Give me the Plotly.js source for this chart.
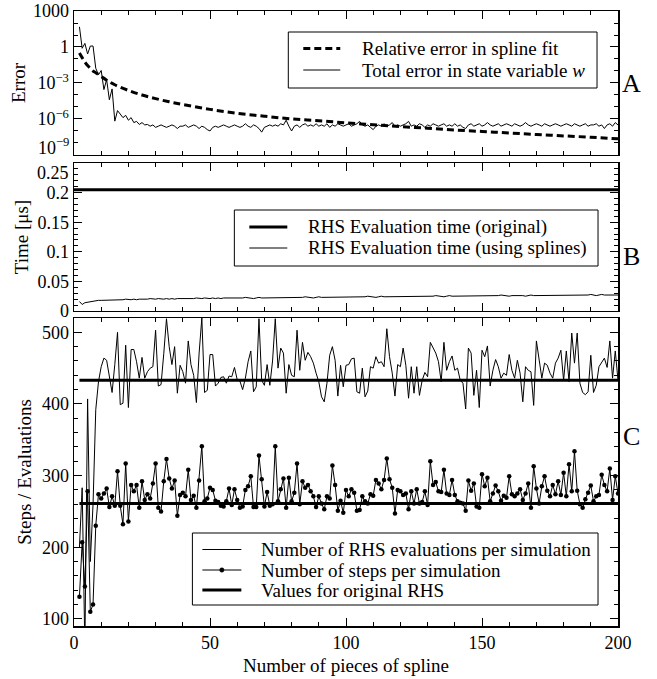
<!DOCTYPE html>
<html>
<head>
<meta charset="utf-8">
<script src="https://cdn.plot.ly/plotly-3.0.1.min.js"></script>
<style>html,body{margin:0;padding:0;background:#fff;}</style>
</head>
<body>
<div id="chart" style="width:657px;height:679px;"></div>
<script>
// ---------- data ----------
// x: number of pieces of spline (2 .. 200)
const pieces = [];
for (let i = 2; i <= 200; i++) pieces.push(i);

// Panel A: relative error in spline fit (smooth curve, read at selected x)
const splineFitX = [2,3,4,5,6,7,8,10,12,15,20,25,30,35,40,50,60,70,80,90,100,110,120,130,140,150,160,170,180,190,200];
const splineFitErr = [3.2e-1,1.3e-1,5.6e-2,2.8e-2,1.7e-2,1.0e-2,7.1e-3,3.5e-3,1.7e-3,7.1e-4,2.4e-4,1.0e-4,5.0e-5,2.7e-5,1.6e-5,6.3e-6,3.0e-6,1.7e-6,1.0e-6,7.1e-7,4.8e-7,3.3e-7,2.3e-7,1.7e-7,1.2e-7,9.1e-8,6.8e-8,5.1e-8,3.9e-8,3.0e-8,2.2e-8];

// Panel A: total error in state variable w (x = 2..200)
const totalErrW = [
 48,0.78,2.0,0.26,1.2,1.2,0.017,4.8e-3,1.1e-2,2.8e-4,
 1.9e-3,4.0e-5,3.2e-4,6.6e-7,5.0e-6,2.5e-6,1.3e-6,2.0e-6,7.9e-7,1.3e-6,
 5.0e-7,6.3e-7,3.5e-7,5.0e-7,3.2e-7,3.5e-7,2.5e-7,3.2e-7,2.0e-7,2.5e-7,
 3.2e-7,2.5e-7,2.0e-7,2.5e-7,3.2e-7,2.5e-7,1.6e-7,2.5e-7,2.5e-7,3.2e-7,
 2.0e-7,2.5e-7,3.2e-7,2.5e-7,1.6e-7,2.5e-7,2.0e-7,1.3e-7,1.0e-7,2.0e-7,
 2.5e-7,2.0e-7,2.5e-7,3.2e-7,2.5e-7,2.0e-7,2.5e-7,3.2e-7,2.5e-7,2.0e-7,
 2.5e-7,4.0e-7,2.5e-7,2.0e-7,3.2e-7,2.5e-7,1.6e-7,8.0e-8,2.0e-7,2.5e-7,
 3.2e-7,2.5e-7,3.2e-7,2.5e-7,4.0e-7,3.2e-7,7.9e-7,2.5e-7,1.0e-7,2.5e-7,
 3.2e-7,2.0e-7,3.2e-7,4.0e-7,2.5e-7,3.2e-7,2.5e-7,4.0e-7,2.5e-7,3.2e-7,
 2.5e-7,4.0e-7,2.0e-7,3.2e-7,2.5e-7,4.0e-7,3.2e-7,2.5e-7,3.2e-7,4.0e-7,
 2.5e-7,3.2e-7,4.0e-7,6.3e-7,3.2e-7,2.5e-7,3.2e-7,2.0e-7,1.3e-7,2.5e-7,
 3.2e-7,2.5e-7,4.0e-7,2.5e-7,3.2e-7,5.0e-7,2.5e-7,3.2e-7,2.5e-7,3.2e-7,
 4.0e-7,6.3e-7,2.5e-7,3.2e-7,2.5e-7,4.0e-7,3.2e-7,2.0e-7,3.2e-7,2.5e-7,
 4.0e-7,3.2e-7,2.5e-7,3.2e-7,4.0e-7,2.5e-7,3.2e-7,2.5e-7,4.0e-7,2.5e-7,
 3.2e-7,2.0e-7,1.6e-7,3.2e-7,4.0e-7,2.5e-7,3.2e-7,4.0e-7,2.5e-7,3.2e-7,
 5.0e-7,3.2e-7,2.5e-7,3.2e-7,4.0e-7,2.5e-7,3.2e-7,4.0e-7,3.2e-7,2.5e-7,
 4.0e-7,3.2e-7,2.5e-7,3.2e-7,5.0e-7,3.2e-7,2.5e-7,3.2e-7,4.0e-7,3.2e-7,
 2.5e-7,4.0e-7,3.2e-7,2.5e-7,3.2e-7,4.0e-7,3.2e-7,2.5e-7,3.2e-7,4.0e-7,
 3.2e-7,2.5e-7,4.0e-7,3.2e-7,2.5e-7,3.2e-7,4.0e-7,2.5e-7,3.2e-7,3.2e-7,
 4.0e-7,2.5e-7,3.2e-7,1.6e-7,3.2e-7,4.0e-7,2.5e-7,5.0e-7,3.2e-7
];

// Panel B: RHS evaluation time [us]
const timeOriginal = [0.205, 0.205];
const timeSplines = [
 0.016,0.011,0.014,0.015,0.016,0.017,0.017,0.018,0.018,0.018,0.019,0.018,0.019,0.019,0.018,0.019,0.019,0.020,0.019,
 0.019,0.020,0.019,0.020,0.020,0.019,0.020,0.021,0.020,0.020,0.021,0.020,0.020,0.021,0.020,0.021,0.020,0.021,0.021,0.020,
 0.021,0.021,0.020,0.021,0.022,0.021,0.021,0.022,0.021,0.021,0.022,0.021,0.022,0.021,0.022,0.022,0.021,0.022,0.022,0.021,
 0.022,0.022,0.023,0.022,0.022,0.021,0.022,0.023,0.022,0.022,0.023,0.022,0.022,0.023,0.022,0.023,0.023,0.022,0.023,0.022,
 0.023,0.023,0.022,0.023,0.024,0.023,0.023,0.022,0.023,0.024,0.023,0.023,0.024,0.023,0.023,0.024,0.023,0.024,0.024,0.023,
 0.024,0.024,0.023,0.024,0.024,0.023,0.024,0.025,0.024,0.024,0.023,0.024,0.025,0.024,0.024,0.025,0.024,0.024,0.025,0.024,
 0.024,0.025,0.024,0.025,0.025,0.024,0.025,0.024,0.025,0.025,0.024,0.025,0.026,0.025,0.025,0.024,0.025,0.026,0.025,0.025,
 0.025,0.026,0.025,0.025,0.026,0.025,0.026,0.025,0.025,0.026,0.026,0.025,0.026,0.026,0.025,0.026,0.027,0.026,0.026,0.025,
 0.026,0.026,0.027,0.026,0.026,0.025,0.026,0.027,0.026,0.026,0.027,0.026,0.026,0.027,0.026,0.026,0.027,0.026,0.027,0.026,
 0.026,0.027,0.026,0.027,0.027,0.026,0.027,0.026,0.027,0.028,0.027,0.026,0.027,0.028,0.027,0.027,0.028,0.027,0.028,0.027
];

// Panel C: RHS evaluations and steps per simulation (x = 2..200)
const rhsEvals = [
 200,283,60,407,180,260,392,431,452,464,
 461,440,416,455,500,399,401,482,395,476,
 476,459,436,465,436,445,450,452,503,425,
 427,470,519,480,455,480,415,454,445,429,
 488,455,440,402,471,520,416,419,469,469,
 425,429,437,438,429,439,438,451,434,432,
 420,436,459,474,417,424,519,433,426,455,
 426,460,519,450,478,471,415,455,440,438,
 503,447,486,461,472,466,457,443,431,410,
 403,429,468,480,461,411,454,424,454,455,
 463,464,417,415,450,410,418,452,450,466,
 457,459,452,505,466,443,411,455,452,478,
 454,408,452,415,452,412,433,444,438,486,
 478,471,459,431,486,447,459,467,447,450,
 433,429,393,478,471,412,447,395,475,466,
 481,425,447,462,452,436,443,440,469,447,
 436,461,443,403,452,447,445,398,488,461,
 436,457,454,443,436,457,464,475,433,474,
 431,499,457,499,429,416,413,417,468,416,
 426,452,459,464,451,488,436,474,433
];
const steps = [
 131,207,145,278,110,120,230,274,268,275,
 282,256,271,258,306,258,232,317,236,287,
 278,287,255,292,266,274,268,289,317,255,
 250,292,323,296,282,293,244,273,276,271,
 308,266,272,255,293,341,264,268,283,280,
 265,263,258,257,264,282,259,281,266,255,
 257,280,285,299,256,256,328,295,257,277,
 258,260,341,264,281,296,255,297,264,276,
 317,260,292,283,287,278,271,256,271,261,
 253,271,268,314,287,251,265,248,280,271,
 281,276,251,252,271,264,261,274,272,294,
 289,281,294,324,295,283,247,280,278,273,
 275,253,278,261,281,261,263,278,259,320,
 287,291,278,277,308,275,273,294,273,264,
 262,261,251,293,279,289,257,255,302,285,
 297,264,275,286,278,265,272,269,299,274,
 271,275,281,266,275,289,255,313,282,261,
 285,299,279,271,287,274,292,273,304,271,
 316,278,334,279,260,255,267,276,286,264,
 271,273,301,287,278,310,266,299,275
];
const originalRHS = [433, 261]; // evaluations, steps for original RHS

// tick labels (the edge labels 10^-9 and 0.25 are drawn shifted inward below)
const errTickVals = [1e-6, 1e-3, 1, 1000];
const errTickText = ['10<sup>−6</sup>', '10<sup>−3</sup>', '1', '1000'];
const timeTickVals = [0, 0.05, 0.1, 0.15, 0.2];
const timeTickText = ['0', '0.05', '0.1', '0.15', '0.2'];

// ---------- chart ----------
const FONT = 'Liberation Serif, "Times New Roman", Times, serif';
const LFS = 19;   // legend / title font size
const xFirst = pieces[0], xLast = pieces[pieces.length - 1];

const names = {
  fit: 'Relative error in spline fit',
  totw: 'Total error in state variable <i>w</i>',
  tOrig: 'RHS Evaluation time (original)',
  tSpl: 'RHS Evaluation time (using splines)',
  ev: 'Number of RHS evaluations per simulation',
  st: 'Number of steps per simulation',
  orig: 'Values for original RHS'
};

const traces = [
  {x: splineFitX, y: splineFitErr, xaxis:'x', yaxis:'y', mode:'lines', line:{color:'black', width:3, dash:'7px,4px', shape:'spline'}, name:names.fit},
  {x: pieces, y: totalErrW, xaxis:'x', yaxis:'y', mode:'lines', line:{color:'black', width:1}, name:names.totw},

  {x: [0, xLast], y: timeOriginal, xaxis:'x2', yaxis:'y2', mode:'lines', line:{color:'black', width:3}, name:names.tOrig},
  {x: pieces, y: timeSplines, xaxis:'x2', yaxis:'y2', mode:'lines', line:{color:'black', width:1}, name:names.tSpl},

  {x: pieces, y: rhsEvals, xaxis:'x3', yaxis:'y3', mode:'lines', line:{color:'black', width:1}, name:names.ev},
  {x: pieces, y: steps, xaxis:'x3', yaxis:'y3', mode:'lines+markers', line:{color:'black', width:1}, marker:{color:'black', size:4.5}, name:names.st},
  {x: [xFirst, xLast], y: [originalRHS[0], originalRHS[0]], xaxis:'x3', yaxis:'y3', mode:'lines', line:{color:'black', width:3}, name:names.orig},
  {x: [xFirst, xLast], y: [originalRHS[1], originalRHS[1]], xaxis:'x3', yaxis:'y3', mode:'lines', line:{color:'black', width:3}, name:names.orig}
];

function xAxis(anchor, labels) {
  return {
    anchor: anchor, domain:[0,1], range:[0,200], showline:true, linecolor:'black', linewidth:1.5, mirror:'ticks',
    ticks:'inside', ticklen:8, tickwidth:1, tickcolor:'black', dtick:50, tick0:0,
    showgrid:false, zeroline:false, showticklabels:labels,
    tickfont:{family:FONT, size:18, color:'black'},
    minor:{ticks:'inside', ticklen:4, tickwidth:1, tickcolor:'black', dtick:10, showgrid:false}
  };
}
const yCommon = {showline:true, linecolor:'black', linewidth:1.5, mirror:'ticks', ticks:'inside', ticklen:8, tickwidth:1, tickcolor:'black', showgrid:false, zeroline:false, tickfont:{family:FONT, size:18, color:'black'}};

// pixel -> paper helpers for the legend boxes / panel letters
const PX = v => (v - 73.5) / 544.5;
const PY = v => 1 - (v - 11) / 615;

const shapes = [];
const annotations = [];
function box(x0, y0, x1, y1) {
  shapes.push({type:'rect', xref:'paper', yref:'paper', x0:PX(x0), x1:PX(x1), y0:PY(y1), y1:PY(y0), line:{color:'black', width:1}, fillcolor:'white', layer:'above'});
}
function sample(x0, x1, y, width, dash) {
  shapes.push({type:'line', xref:'paper', yref:'paper', x0:PX(x0), x1:PX(x1), y0:PY(y), y1:PY(y), line:{color:'black', width:width, dash:dash || 'solid'}, layer:'above'});
}
function dot(x, y, r) {
  shapes.push({type:'circle', xref:'paper', yref:'paper', x0:PX(x - r), x1:PX(x + r), y0:PY(y + r), y1:PY(y - r), line:{color:'black', width:0.5}, fillcolor:'black', layer:'above'});
}
function label(txt, x, y, size, anchor) {
  annotations.push({text:txt, xref:'paper', yref:'paper', x:PX(x), y:PY(y), xanchor:anchor || 'left', yanchor:'middle', showarrow:false, font:{family:FONT, size:size, color:'black'}});
}

// Legend A
box(288, 32, 597, 88);
sample(303, 340, 48.5, 3, '7px,4px');
sample(303, 340, 70, 1);
label(names.fit, 360, 48.5, LFS);
label(names.totw, 360, 70, LFS);
// Legend B
box(234, 210, 598, 266);
sample(249, 287, 227, 3);
sample(249, 287, 248, 1);
label(names.tOrig, 306, 227, LFS);
label(names.tSpl, 306, 248, LFS);
// Legend C
box(192, 533, 598, 605);
sample(202, 241, 549.5, 1);
sample(202, 241, 570, 1);
dot(221.5, 570, 2.2);
sample(202, 241, 590, 3);
label(names.ev, 259, 549.5, LFS);
label(names.st, 259, 570, LFS);
label(names.orig, 259, 590, LFS);

// Edge tick labels shifted inward as in the reference
annotations.push({text:'10<sup>−9</sup>', xref:'paper', yref:'y', x:0, y:-8.3, xanchor:'right', yanchor:'middle', xshift:-3, showarrow:false, font:{family:FONT, size:18, color:'black'}});
annotations.push({text:'0.25', xref:'paper', yref:'y2', x:0, y:0.233, xanchor:'right', yanchor:'middle', xshift:-3, showarrow:false, font:{family:FONT, size:18, color:'black'}});

// Panel letters
label('A', 632, 84, 26, 'center');
label('B', 632, 256, 26, 'center');
label('C', 632, 436, 26, 'center');

const layout = {
  width:657, height:679,
  margin:{l:73.5, r:39, t:11, b:53},
  paper_bgcolor:'white', plot_bgcolor:'white',
  font:{family:FONT, size:LFS, color:'black'},
  showlegend:false,
  xaxis: xAxis('y', false),
  xaxis2: xAxis('y2', false),
  xaxis3: Object.assign(xAxis('y3', true), {title:{text:'Number of pieces of spline', font:{family:FONT, size:LFS}, standoff:6}}),
  yaxis: Object.assign({}, yCommon, {
    domain:[0.7659, 1], anchor:'x', type:'log', range:[-9, 3],
    tickmode:'array', tickvals:errTickVals, ticktext:errTickText,
    minor:{ticks:'inside', ticklen:4, tickwidth:1, tickcolor:'black', tickmode:'array', tickvals:[1e-8,1e-7,1e-5,1e-4,1e-2,1e-1,10,100], showgrid:false},
    title:{text:'Error', font:{family:FONT, size:LFS}, standoff:2}
  }),
  yaxis2: Object.assign({}, yCommon, {
    domain:[0.5122, 0.7528], anchor:'x2', range:[0, 0.25],
    tickmode:'array', tickvals:timeTickVals, ticktext:timeTickText,
    minor:{ticks:'inside', ticklen:4, tickwidth:1, tickcolor:'black', dtick:0.01, tick0:0, showgrid:false},
    title:{text:'Time [μs]', font:{family:FONT, size:LFS}, standoff:3}
  }),
  yaxis3: Object.assign({}, yCommon, {
    domain:[0, 0.5008], anchor:'x3', range:[90, 520], dtick:100, tick0:0,
    minor:{ticks:'inside', ticklen:4, tickwidth:1, tickcolor:'black', dtick:20, showgrid:false},
    title:{text:'Steps / Evaluations', font:{family:FONT, size:LFS}, standoff:5}
  }),
  shapes: shapes,
  annotations: annotations
};

Plotly.newPlot('chart', traces, layout, {displayModeBar:false, staticPlot:true});
</script>
</body>
</html>
